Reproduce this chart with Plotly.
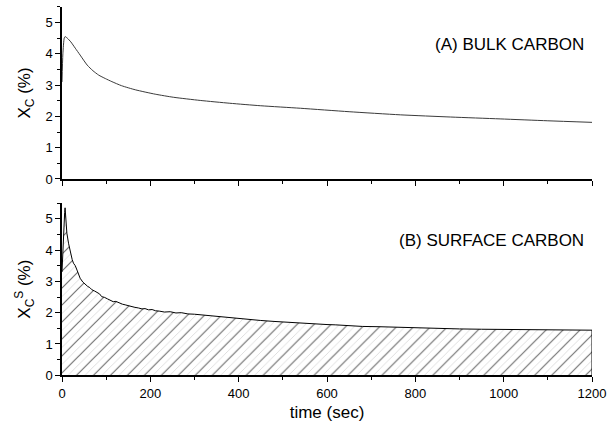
import plotly.graph_objects as go
from plotly.subplots import make_subplots

# Panel A: bulk carbon
t_bulk = [0, 2, 5, 7, 12, 20, 30, 41, 57, 70, 83, 98, 113, 135, 166, 211, 253, 313,
          380, 450, 540, 650, 766, 880, 992, 1100, 1200]
x_bulk = [3.1, 4.0, 4.5, 4.55, 4.5, 4.38, 4.18, 3.96, 3.64, 3.46, 3.32, 3.21, 3.11, 2.98,
          2.85, 2.71, 2.61, 2.51, 2.42, 2.34, 2.26, 2.15, 2.05, 1.98, 1.92, 1.86, 1.81]

# Panel B: surface carbon
t_surf = [0, 2, 4, 6, 7, 9, 11, 15, 19, 23, 26, 30, 34, 38, 41, 47, 53, 58, 63, 68, 74, 80,
          85, 90, 96, 103, 110, 116, 122, 130, 137, 143, 150, 158, 165, 173, 181, 188, 196,
          204, 212, 220, 232, 245, 258, 270, 285, 300, 315, 330, 345, 360, 375, 390, 405,
          420, 450, 480, 510, 540, 570, 600, 620, 640, 660, 680, 720, 760, 800, 850, 900,
          950, 1000, 1050, 1100, 1150, 1200]
x_surf = [3.3, 4.1, 4.8, 5.2, 5.35, 5.0, 4.54, 4.2, 3.9, 3.7, 3.58, 3.5, 3.36, 3.2, 3.1,
          2.98, 2.89, 2.84, 2.8, 2.73, 2.69, 2.63, 2.6, 2.51, 2.49, 2.44, 2.4, 2.35, 2.36,
          2.3, 2.27, 2.25, 2.22, 2.2, 2.17, 2.15, 2.12, 2.13, 2.09, 2.1, 2.06, 2.05, 2.02,
          2.03, 1.99, 2.0, 1.96, 1.95, 1.93, 1.9, 1.88, 1.86, 1.84, 1.81, 1.8, 1.78, 1.75,
          1.72, 1.69, 1.67, 1.64, 1.62, 1.61, 1.59, 1.57, 1.56, 1.55, 1.53, 1.51, 1.5, 1.48,
          1.47, 1.46, 1.45, 1.45, 1.44, 1.44]

x_ticks = [0, 200, 400, 600, 800, 1000, 1200]
y_ticks = [0, 1, 2, 3, 4, 5]

FONT = "Liberation Sans, Arial, sans-serif"

fig = make_subplots(rows=2, cols=1, shared_xaxes=False, vertical_spacing=0.06)

fig.add_trace(go.Scatter(x=t_bulk, y=x_bulk, mode="lines",
                         line=dict(color="#3a3a3a", width=1, shape="spline", smoothing=0.6),
                         showlegend=False), row=1, col=1)

# closed fill area for surface carbon (curve dropped to the axis at the last time)
xs_fill = t_surf + [t_surf[-1]]
ys_fill = x_surf + [0]
fig.add_trace(go.Scatter(x=xs_fill, y=ys_fill, mode="lines", fill="tozeroy",
                         fillcolor="rgba(0,0,0,0)", line=dict(color="rgba(0,0,0,0)", width=0),
                         fillpattern=dict(shape="/", size=6, solidity=0.15,
                                          fgcolor="#b8b8b8", bgcolor="white"),
                         showlegend=False), row=2, col=1)
fig.add_trace(go.Scatter(x=xs_fill, y=ys_fill, mode="lines", fill="tozeroy",
                         fillcolor="rgba(0,0,0,0)", line=dict(color="black", width=1),
                         fillpattern=dict(shape="/", size=12, solidity=0.1,
                                          fgcolor="black", bgcolor="rgba(0,0,0,0)"),
                         showlegend=False), row=2, col=1)

axis_common = dict(showline=True, linecolor="black", linewidth=1.5, ticks="outside",
                   ticklen=5, tickwidth=1.2, tickcolor="black", showgrid=False, zeroline=False,
                   automargin=False,
                   tickfont=dict(family=FONT, size=13, color="black"))

fig.update_xaxes(range=[0, 1200], tickvals=x_ticks, ticktext=[str(v) for v in x_ticks],
                 minor=dict(ticks="outside", dtick=100, ticklen=3, tickcolor="black"),
                 **axis_common)
fig.update_xaxes(showticklabels=False, row=1, col=1)
fig.update_xaxes(title=dict(text="time (sec)", font=dict(family=FONT, size=17, color="black"),
                            standoff=6), row=2, col=1)
fig.update_yaxes(range=[0, 5.5], tickvals=y_ticks, ticktext=[str(v) for v in y_ticks],
                 minor=dict(ticks="outside", dtick=0.5, ticklen=3, tickcolor="black"),
                 **axis_common)
fig.update_yaxes(title=dict(text="X<sub>C</sub> (%)", font=dict(family=FONT, size=17, color="black"),
                            standoff=10), row=1, col=1)
fig.update_yaxes(title=dict(text="X<sub>C</sub><sup>S</sup> (%)",
                            font=dict(family=FONT, size=17, color="black"), standoff=10),
                 row=2, col=1)

fig.update_layout(
    width=608, height=434,
    margin=dict(l=62, r=16, t=5, b=58, autoexpand=False),
    paper_bgcolor="white", plot_bgcolor="white",
    xaxis=dict(domain=[0, 1]), xaxis2=dict(domain=[0, 1]),
    yaxis=dict(domain=[0.531, 0.995]), yaxis2=dict(domain=[0.002, 0.466]),
    annotations=[
        dict(text="(A) BULK CARBON", xref="x", yref="y", x=1187, y=4.3, xanchor="right",
             yanchor="middle", showarrow=False, font=dict(family=FONT, size=17, color="black")),
        dict(text="(B) SURFACE CARBON", xref="x2", yref="y2", x=1187, y=4.3, xanchor="right",
             yanchor="middle", showarrow=False, font=dict(family=FONT, size=17, color="black")),
    ],
)

fig.write_html("out.html", post_script="document.body.style.margin='0';",
               config={"displayModeBar": False})
